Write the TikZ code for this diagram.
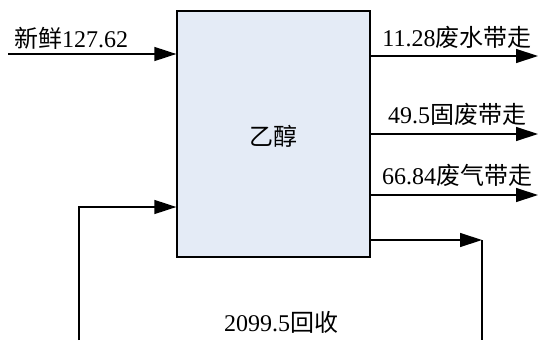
\documentclass[tikz,border=0pt]{standalone}
\usepackage{fontspec}
\setmainfont{Liberation Serif}
\newfontfamily\cjk{Noto Sans CJK SC}
\usetikzlibrary{arrows.meta}
\definecolor{boxfill}{HTML}{E4EBF6}
\begin{document}
\begin{tikzpicture}[x=1pt,y=-1pt,
  flow/.style={line width=1.3pt,-{Triangle[length=22pt,width=14pt]}},
  plain/.style={line width=1.3pt},
  lbl/.style={inner sep=0pt,font=\fontsize{24}{28}\selectfont},
  unit/.style={draw,line width=1.3pt,fill=boxfill,minimum width=193pt,minimum height=246pt,inner sep=0pt}]
\useasboundingbox (0,0) rectangle (543,340);
\node[unit] (box) at (273.5,134) {};
\node[lbl] (name) at (273.5,136) {\cjk 乙醇};
\coordinate (inA) at (8,54);
\coordinate (o1) at (538,56);
\coordinate (o2) at (538,134);
\coordinate (o3) at (538,195);
\coordinate (o4) at (482,240);
\coordinate (o4b) at (482,340);
\coordinate (r0) at (79,340);
\coordinate (r1) at (79,207);
\draw[flow] (inA) -- (inA -| box.west);
\draw[flow] (o1 -| box.east) -- (o1);
\draw[flow] (o2 -| box.east) -- (o2);
\draw[flow] (o3 -| box.east) -- (o3);
\draw[flow] (o4 -| box.east) -- (o4);
\draw[plain] (o4) -- (o4b);
\draw[flow] (r0) -- (r1) -- (r1 -| box.west);
\node[lbl,anchor=base west] (t0) at (14,47) {\cjk 新鲜\rmfamily 127.62};
\node[lbl,anchor=base] (t1) at (457,46) {11.28{\cjk 废水带走}};
\node[lbl,anchor=base] (t2) at (457,123) {49.5{\cjk 固废带走}};
\node[lbl,anchor=base] (t3) at (457,184) {66.84{\cjk 废气带走}};
\node[lbl,anchor=base] (t4) at (281,331) {2099.5{\cjk 回收}};
\end{tikzpicture}
\end{document}
